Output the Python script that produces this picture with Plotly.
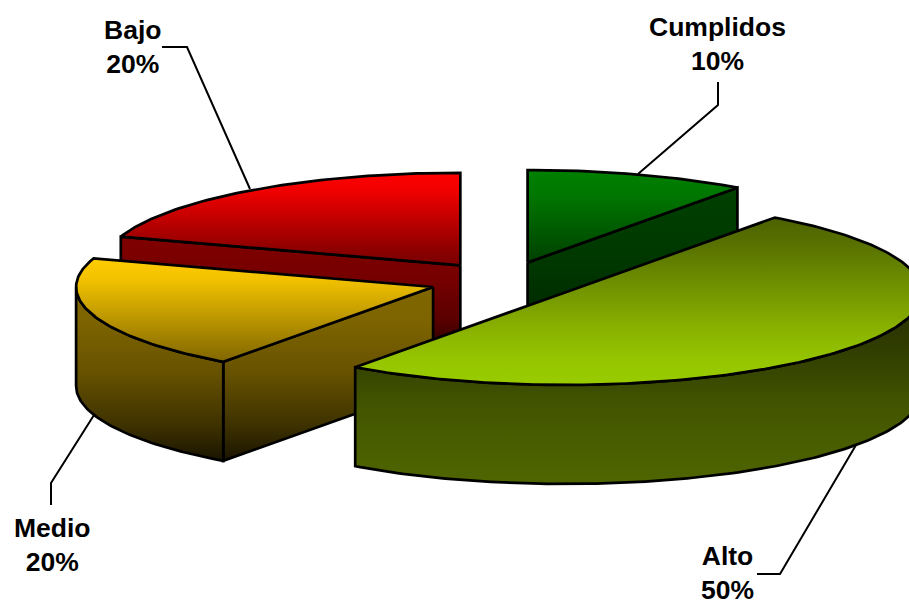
import math
import plotly.graph_objects as go

# Share of each category, clockwise from twelve o'clock
categories = ["Cumplidos", "Alto", "Medio", "Bajo"]
values = [10, 50, 20, 20]

# Top face and side wall gradient stops for each slice
top_colors = [
    [[0, "#008000"], [0.25, "#007800"], [1, "#004000"]],
    [[0, "#4c6200"], [0.15, "#577000"], [0.4, "#6f9000"], [0.65, "#88b000"], [0.85, "#95c500"], [1, "#99cc00"]],
    [[0, "#ffcc00"], [0.2, "#f2c200"], [1, "#806600"]],
    [[0, "#ff0000"], [0.2, "#f00000"], [0.85, "#8a0000"], [1, "#7a0000"]],
]
wall_colors = [
    [[0, "#004000"], [0.4, "#003800"], [1, "#002000"]],
    [[0, "#262f00"], [0.25, "#2e3a00"], [0.6, "#435500"], [1, "#4f6600"]],
    [[0, "#806600"], [0.2, "#7d6400"], [0.5, "#665100"], [0.8, "#3d3100"], [1, "#1a1400"]],
    [[0, "#800000"], [0.35, "#750000"], [0.65, "#5a0000"], [0.85, "#300000"], [1, "#100000"]],
]
draw_order = ["Cumplidos", "Bajo", "Medio", "Alto"]

# Leader line vertices and label centres, in page pixels
leaders = {
    "Cumplidos": ([718, 718, 638], [82, 105, 174]),
    "Alto": ([757, 780, 856], [574, 574, 445]),
    "Medio": ([51, 51, 94], [505, 483, 415]),
    "Bajo": ([162, 187, 250], [47, 47, 189]),
}
label_pos = {
    "Cumplidos": (717.5, 44),
    "Alto": (727, 573),
    "Medio": (52, 545),
    "Bajo": (132.5, 47),
}

# Projection of the tilted pie onto the page
CX, CY = 504.4, 281.0
RX, RY = 357.0, 92.5
DEPTH = 99.0
EXPLODE = 0.21
FONT = "Liberation Sans"


def project(theta, radius=1.0, ox=0.0, oy=0.0, dz=0.0):
    t = math.radians(theta)
    return (ox + radius * RX * math.sin(t), oy - radius * RY * math.cos(t) + dz)


def arc(t0, t1, ox, oy, dz=0.0, step=1.0):
    n = max(2, int(abs(t1 - t0) / step) + 1)
    return [project(t0 + (t1 - t0) * i / (n - 1), 1.0, ox, oy, dz) for i in range(n)]


def polygon(fig, pts, colorscale, name):
    xs = [p[0] for p in pts] + [pts[0][0]]
    ys = [p[1] for p in pts] + [pts[0][1]]
    fig.add_trace(go.Scatter(
        x=xs, y=ys, mode="lines", fill="toself", name=name,
        line=dict(color="black", width=2.7),
        fillgradient=dict(
            type="vertical",
            start=min(ys), stop=max(ys),
            colorscale=colorscale,
        ),
        hoverinfo="skip", showlegend=False,
    ))


total = sum(values)
spans = {}
angle = 0.0
for cat, v in zip(categories, values):
    spans[cat] = (angle, angle + 360.0 * v / total)
    angle += 360.0 * v / total

fig = go.Figure()

for cat in categories:
    lx, ly = leaders[cat]
    fig.add_trace(go.Scatter(x=lx, y=ly, mode="lines",
                             line=dict(color="black", width=2),
                             hoverinfo="skip", showlegend=False))

for cat in draw_order:
    i = categories.index(cat)
    t0, t1 = spans[cat]
    mid = (t0 + t1) / 2
    ox, oy = project(mid, EXPLODE, CX, CY)
    apex = (ox, oy)

    # Radial faces turned towards the viewer
    walls = []
    if math.cos(math.radians(t0 - 90)) < -1e-6:
        walls.append(t0)
    if math.cos(math.radians(t1 + 90)) < -1e-6:
        walls.append(t1)
    for t in walls:
        rim = project(t, 1.0, ox, oy)
        polygon(fig, [apex, rim, (rim[0], rim[1] + DEPTH), (ox, oy + DEPTH)],
                wall_colors[i], cat + " side")

    # Curved outer wall, front half of the rim only
    a0, a1 = max(t0, 90.0), min(t1, 270.0)
    if a1 > a0:
        polygon(fig, arc(a0, a1, ox, oy) + arc(a1, a0, ox, oy, DEPTH),
                wall_colors[i], cat + " wall")

    polygon(fig, [apex] + arc(t0, t1, ox, oy), top_colors[i], cat)

annotations = [
    dict(x=label_pos[c][0], y=label_pos[c][1], xref="x", yref="y",
         text=f"{c}<br>{round(100 * v / total)}%", showarrow=False,
         xanchor="center", yanchor="middle", align="center",
         font=dict(family=FONT, size=26.5, color="black", weight="bold"))
    for c, v in zip(categories, values)
]

fig.update_layout(
    width=909, height=602,
    margin=dict(l=0, r=0, t=0, b=0),
    paper_bgcolor="white", plot_bgcolor="white",
    xaxis=dict(range=[0, 909], visible=False, fixedrange=True),
    yaxis=dict(range=[602, 0], visible=False, fixedrange=True),
    annotations=annotations,
    showlegend=False,
)

fig.write_html("out.html", config={"displayModeBar": False})
